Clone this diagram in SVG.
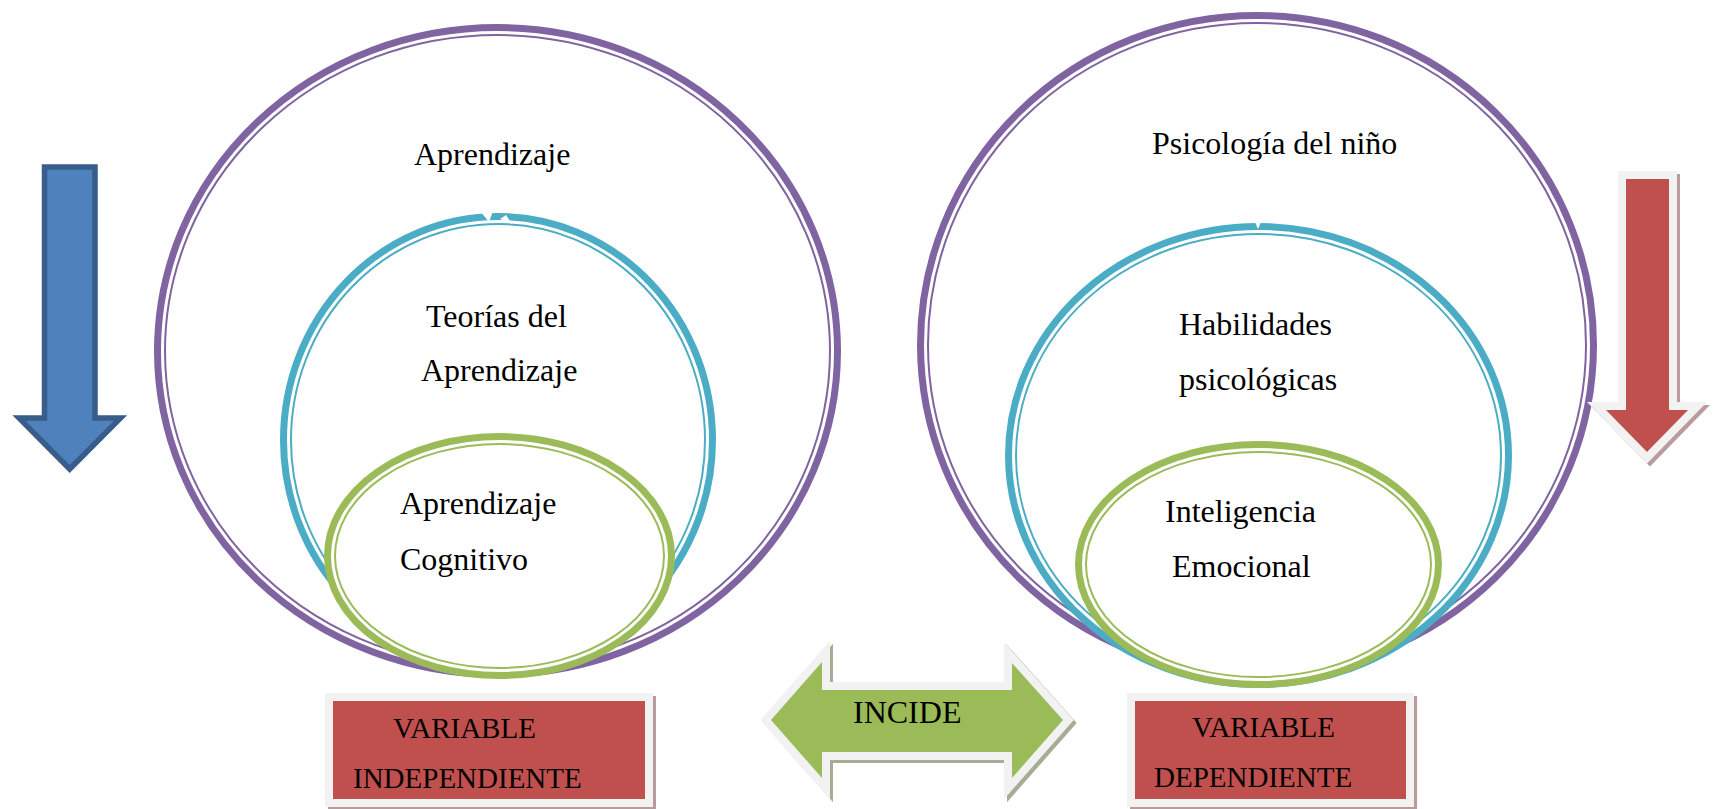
<svg xmlns="http://www.w3.org/2000/svg" width="1716" height="809" viewBox="0 0 1716 809">
<style>
  .bg{fill:#ffffff}
  .t{font-family:"Liberation Serif","Times New Roman",serif;font-size:32px;fill:#000000}
  .tb{font-family:"Liberation Serif","Times New Roman",serif;font-size:29px;fill:#000000}
  .purple{stroke:#8064a2}
  .teal{stroke:#4bacc6}
  .green{stroke:#9bbb59}
  .thick{stroke-width:7;fill:#ffffff}
  .thin{stroke-width:2;fill:none}
  .frame{fill:#f2f2f2;stroke:#f2f2f2;stroke-width:16;stroke-linejoin:miter}
</style>
<rect class="bg" x="0" y="0" width="1716" height="809"/>

<g id="arrow-left-blue">
  <polygon points="44.5,167 95,167 95,418 120.5,418 69.7,469 19,418 44.5,418" fill="#4f81bd" stroke="#385d8a" stroke-width="5.5" stroke-linejoin="miter"/>
</g>

<g id="node-aprendizaje">
  <ellipse class="purple thick" cx="497.5" cy="351" rx="340" ry="323.5"/>
  <ellipse class="purple thin" cx="497.5" cy="351" rx="332.5" ry="316"/>
  <text class="t" x="414" y="165">Aprendizaje</text>
</g>

<g id="node-teorias">
  <ellipse class="teal thick" cx="498" cy="440" rx="214.5" ry="223.5"/>
  <ellipse class="teal thin" cx="498" cy="440" rx="207" ry="216"/>
  <polygon points="480,211 493,211 489,222" fill="#ffffff"/>
  <polygon points="500,219 506,215 512,224" fill="#ffffff"/>
  <text class="t" x="426" y="327">Teorías del</text>
  <text class="t" x="421" y="381">Aprendizaje</text>
</g>

<g id="node-cognitivo">
  <ellipse class="green thick" cx="499.5" cy="556" rx="172" ry="119.5"/>
  <ellipse class="green thin" cx="499.5" cy="556" rx="164.5" ry="112"/>
  <text class="t" x="400" y="514">Aprendizaje</text>
  <text class="t" x="400" y="570">Cognitivo</text>
</g>

<g id="node-psicologia">
  <ellipse class="purple thick" cx="1257" cy="345" rx="336.5" ry="329.5"/>
  <ellipse class="purple thin" cx="1257" cy="345" rx="329" ry="322"/>
  <text class="t" x="1152" y="154">Psicología del niño</text>
</g>

<g id="node-habilidades">
  <ellipse class="teal thick" cx="1258.5" cy="455.5" rx="250" ry="229"/>
  <ellipse class="teal thin" cx="1258.5" cy="455.5" rx="242.5" ry="221.5"/>
  <polygon points="1255,222 1261,222 1258,229" fill="#ffffff"/>
  <text class="t" x="1179" y="335">Habilidades</text>
  <text class="t" x="1179" y="390">psicológicas</text>
</g>

<g id="node-inteligencia">
  <ellipse class="green thick" cx="1258.5" cy="564.5" rx="180" ry="120"/>
  <ellipse class="green thin" cx="1258.5" cy="564.5" rx="172.5" ry="112.5"/>
  <text class="t" x="1165" y="522">Inteligencia</text>
  <text class="t" x="1172" y="577">Emocional</text>
</g>

<g id="arrow-right-red">
  <polygon points="1629,182 1672,182 1672,413 1691,413 1650,455 1609,413 1629,413" fill="#bb9c9c" stroke="#bb9c9c" stroke-width="16" stroke-linejoin="miter"/>
  <polygon class="frame" points="1626,179 1669,179 1669,410 1688,410 1647,452 1606,410 1626,410"/>
  <polygon points="1626,179 1669,179 1669,410 1688,410 1647,452 1606,410 1626,410" fill="#c0504d"/>
</g>

<g id="box-independiente">
  <rect x="336" y="704" width="312" height="98" fill="#b89b9b" stroke="#b89b9b" stroke-width="16"/>
  <rect class="frame" x="333" y="701" width="312" height="98"/>
  <rect x="333" y="701" width="312" height="98" fill="#c0504d"/>
  <text class="tb" x="393" y="738">VARIABLE</text>
  <text class="tb" x="353" y="788">INDEPENDIENTE</text>
</g>

<g id="box-dependiente">
  <rect x="1138" y="704" width="271" height="98" fill="#b89b9b" stroke="#b89b9b" stroke-width="16"/>
  <rect class="frame" x="1135" y="701" width="271" height="98"/>
  <rect x="1135" y="701" width="271" height="98" fill="#c0504d"/>
  <text class="tb" x="1192" y="737">VARIABLE</text>
  <text class="tb" x="1154" y="787">DEPENDIENTE</text>
</g>

<g id="connectors">
  <g id="arrow-incide">
    <polygon points="774,723 825,665 825,693 1015,693 1015,666 1066,723 1015,781 1015,755 825,755 825,781" fill="#a6ad93" stroke="#a6ad93" stroke-width="16" stroke-linejoin="miter"/>
    <polygon class="frame" points="771,720 822,662 822,690 1012,690 1012,663 1063,720 1012,778 1012,752 822,752 822,778"/>
    <polygon points="771,720 822,662 822,690 1012,690 1012,663 1063,720 1012,778 1012,752 822,752 822,778" fill="#9bbb59"/>
    <text class="t" x="853" y="723">INCIDE</text>
  </g>
</g>
</svg>
